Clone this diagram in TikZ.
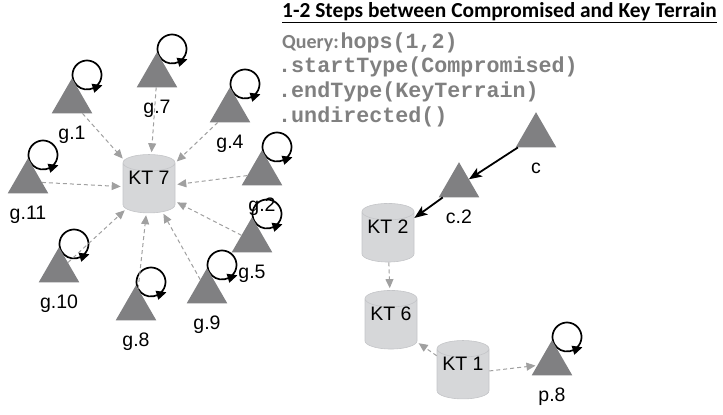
\documentclass[tikz,border=0pt]{standalone}
\usepackage{fontspec}
\setmainfont{Liberation Sans}
\newfontfamily\titlefont{Carlito}
\newfontfamily\codefont{Liberation Mono}
\usetikzlibrary{arrows.meta,shapes.geometric}

\definecolor{trifill}{RGB}{128,128,130}
\definecolor{ktfill}{RGB}{214,215,217}
\definecolor{ktline}{RGB}{196,197,200}
\definecolor{linkgray}{RGB}{160,160,160}
\definecolor{codegray}{RGB}{128,128,128}

\tikzset{
  tri/.style={regular polygon, regular polygon sides=3, minimum size=47pt,
    inner sep=0pt, outer sep=0pt, fill=trifill},
  ktnode/.style={cylinder, shape border rotate=90, aspect=0.4,
    minimum width=52pt, minimum height=49pt, inner sep=0pt,
    draw=ktline, line width=0.6pt, fill=ktfill, text depth=20pt,
    font=\fontsize{19.5}{22}\selectfont},
  codeline/.style={anchor=base west, inner sep=0pt, text=codegray,
    font=\codefont\bfseries\fontsize{21.7}{25}\selectfont},
  link/.style={draw=linkgray, line width=1pt, dash pattern=on 4pt off 3pt,
    -{Triangle[length=9pt,width=8pt,fill=linkgray]}, shorten >=2pt},
  path/.style={draw=black, line width=1.8pt, -{Stealth[length=13pt,width=10pt,inset=3pt]}},
  selfloop/.style={draw=black, line width=1.7pt, -{Triangle[length=10pt,width=9pt]}},
  every label/.style={font=\fontsize{19.5}{22}\selectfont, inner sep=0pt, text height=14pt},
  label distance=12pt
}
% loop over the apex of a host triangle
\newcommand{\gloop}[1]{\draw[selfloop] ([shift={(22.25,9.56)}]#1)
  arc[start angle=-60, end angle=280, radius=14.5pt] -- ++(13,-4);}

\begin{document}
\begin{tikzpicture}[x=1pt, y=-1pt]
  \useasboundingbox (0,0) rectangle (723,415);

  % query text
  \node[anchor=base west, inner sep=0pt, font=\titlefont\bfseries\fontsize{21.4}{24}\selectfont]
    (title) at (282,17) {\underline{1-2 Steps between Compromised and Key Terrain}};
  \node[anchor=base west, inner sep=0pt, text=codegray] (q1) at (282,48)
    {{\titlefont\bfseries\fontsize{20}{22}\selectfont Query:}\,{\codefont\bfseries\fontsize{21.7}{25}\selectfont hops(1,2)}};
  \node[codeline] (q2) at (278,72) {.startType(Compromised)};
  \node[codeline] (q3) at (278,97) {.endType(KeyTerrain)};
  \node[codeline] (q4) at (278,122) {.undirected()};

  % key terrain
  \node[ktnode] (kt7) at (149,188) {KT 7};
  \node[ktnode] (kt2) at (388,237) {KT 2};
  \node[ktnode] (kt6) at (391,324) {KT 6};
  \node[ktnode] (kt1) at (463,374) {KT 1};

  % self loops first, triangles drawn on top
  \coordinate (a1) at (72,78);
  \coordinate (a7) at (157,52);
  \coordinate (a4) at (230,87);
  \coordinate (a2) at (262,150);
  \coordinate (a11) at (28,158);
  \coordinate (a10) at (59,247);
  \coordinate (a8) at (136,285);
  \coordinate (a9) at (207,268);
  \coordinate (a5) at (252,217);
  \coordinate (ap8) at (552,340);
  \gloop{a1}
  \gloop{a7}
  \gloop{a4}
  \gloop{a2}
  \gloop{a11}
  \gloop{a10}
  \gloop{a8}
  \gloop{a9}
  \gloop{a5}
  \gloop{ap8}

  % hosts
  \node[tri, label=below:g.1] (g1) at (72,101.7) {};
  \node[tri, label=below:g.7] (g7) at (157,75.7) {};
  \node[tri, label=below:g.4] (g4) at (230,110.7) {};
  \node[tri, label=below:g.2] (g2) at (262,173.7) {};
  \node[tri, label=below:g.11] (g11) at (28,181.7) {};
  \node[tri, label=below:g.10] (g10) at (59,270.7) {};
  \node[tri, label=below:g.8] (g8) at (136,308.7) {};
  \node[tri, label=below:g.9] (g9) at (207,291.7) {};
  \node[tri, label=below:g.5] (g5) at (252,240.7) {};
  \node[tri, label=below:c] (c) at (536,135.7) {};
  \node[tri, label=below:c.2] (c2) at (459,185.7) {};
  \node[tri, label=below:p.8] (p8) at (552,363.7) {};

  % links
  \draw[link] (g1) -- (kt7);
  \draw[link] (g7) -- (kt7);
  \draw[link] (g4) -- (kt7);
  \draw[link] (g2) -- (kt7);
  \draw[link] (g11) -- (kt7);
  \draw[link] (g5) -- (kt7);
  \draw[link] (g9) -- (kt7);
  \draw[link] (g8) -- (kt7);
  \draw[link] (g10) -- (kt7);
  \draw[link] (kt2) -- (kt6);
  \draw[link] (kt1) -- (kt6);
  \draw[link] (kt1) -- (p8);
  \draw[path] (c) -- (c2);
  \draw[path] (c2) -- (kt2);
\end{tikzpicture}
\end{document}
